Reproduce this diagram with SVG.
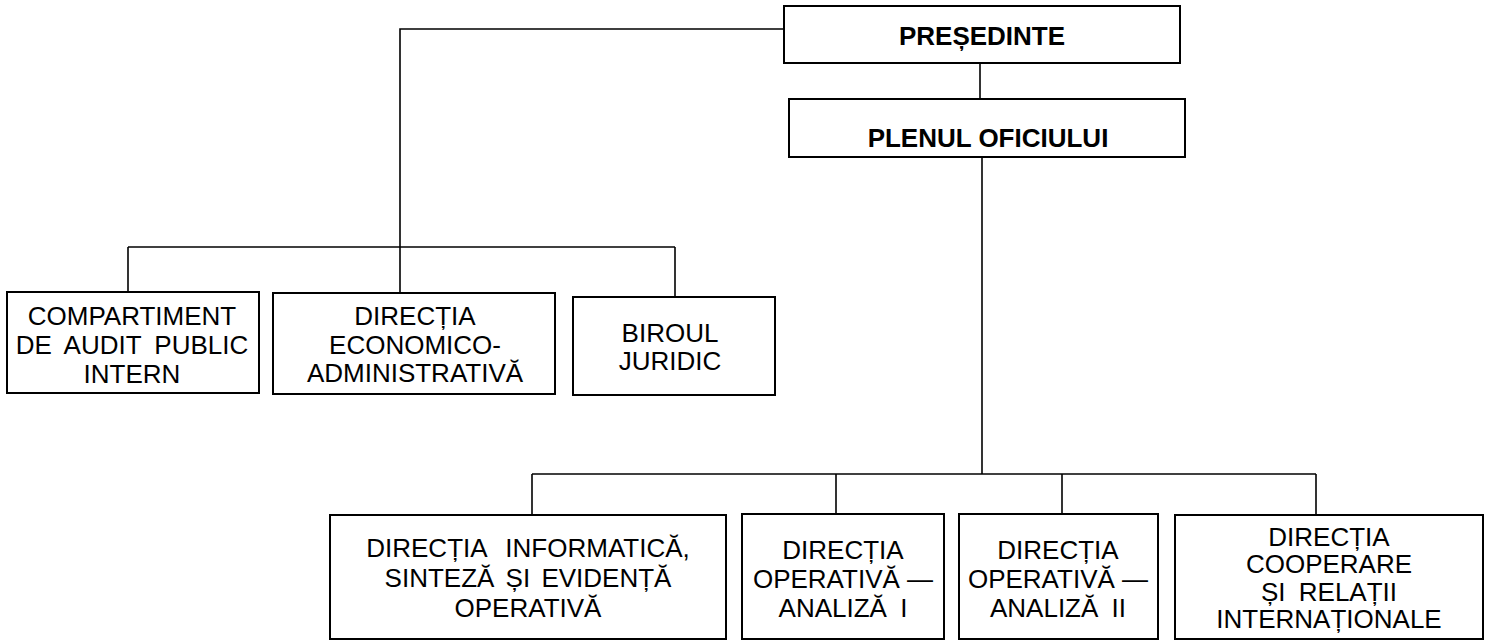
<svg xmlns="http://www.w3.org/2000/svg" width="1493" height="641" viewBox="0 0 1493 641">
<style>
.box{fill:#fff;stroke:#000;stroke-width:2}
.ln{fill:none;stroke:#000;stroke-width:1.6}
text{font-family:"Liberation Sans",Arial,sans-serif;font-size:26px;fill:#000;text-anchor:middle}
.b{font-weight:bold}
</style>
<rect width="1493" height="641" fill="#fff"/>
<g id="connectors">
<polyline class="ln" points="784,29 400,29 400,293"/>
<line class="ln" x1="128" y1="247" x2="675" y2="247"/>
<line class="ln" x1="128" y1="247" x2="128" y2="292"/>
<line class="ln" x1="675" y1="247" x2="675" y2="297"/>
<line class="ln" x1="980" y1="63" x2="980" y2="99"/>
<line class="ln" x1="982" y1="157" x2="982" y2="474"/>
<line class="ln" x1="532" y1="474" x2="1316" y2="474"/>
<line class="ln" x1="532" y1="474" x2="532" y2="515"/>
<line class="ln" x1="836" y1="474" x2="836" y2="514"/>
<line class="ln" x1="1062" y1="474" x2="1062" y2="514"/>
<line class="ln" x1="1316" y1="474" x2="1316" y2="515"/>
</g>
<g id="presedinte">
<rect class="box" x="784" y="6" width="396" height="57"/>
<text class="b" x="982" y="45">PREȘEDINTE</text>
</g>
<g id="plenul">
<rect class="box" x="789" y="99" width="396" height="58"/>
<text class="b" x="988" y="147">PLENUL OFICIULUI</text>
</g>
<g id="audit">
<rect class="box" x="7" y="292" width="252" height="101"/>
<text x="132"><tspan x="132" y="325">COMPARTIMENT</tspan><tspan x="132" y="354" word-spacing="6">DE AUDIT PUBLIC</tspan><tspan x="132" y="383">INTERN</tspan></text>
</g>
<g id="economico">
<rect class="box" x="273" y="293" width="282" height="101"/>
<text x="415"><tspan x="415" y="325">DIRECȚIA</tspan><tspan x="415" y="354">ECONOMICO-</tspan><tspan x="415" y="382">ADMINISTRATIVĂ</tspan></text>
</g>
<g id="juridic">
<rect class="box" x="573" y="297" width="202" height="98"/>
<text x="670"><tspan x="670" y="342">BIROUL</tspan><tspan x="670" y="370">JURIDIC</tspan></text>
</g>
<g id="informatica">
<rect class="box" x="330" y="515" width="396" height="124"/>
<text x="528"><tspan x="528" y="557" word-spacing="12">DIRECȚIA INFORMATICĂ,</tspan><tspan x="528" y="587" word-spacing="4">SINTEZĂ ȘI EVIDENȚĂ</tspan><tspan x="528" y="617">OPERATIVĂ</tspan></text>
</g>
<g id="analiza1">
<rect class="box" x="742" y="514" width="202" height="125"/>
<text x="843"><tspan x="843" y="559">DIRECȚIA</tspan><tspan x="843" y="588">OPERATIVĂ —</tspan><tspan x="843" y="617" word-spacing="6">ANALIZĂ I</tspan></text>
</g>
<g id="analiza2">
<rect class="box" x="959" y="514" width="199" height="125"/>
<text x="1058"><tspan x="1058" y="559">DIRECȚIA</tspan><tspan x="1058" y="588">OPERATIVĂ —</tspan><tspan x="1058" y="617" word-spacing="6">ANALIZĂ II</tspan></text>
</g>
<g id="cooperare">
<rect class="box" x="1175" y="515" width="308" height="124"/>
<text x="1329"><tspan x="1329" y="546">DIRECȚIA</tspan><tspan x="1329" y="573">COOPERARE</tspan><tspan x="1329" y="601" word-spacing="6">ȘI RELAȚII</tspan><tspan x="1329" y="628">INTERNAȚIONALE</tspan></text>
</g>
</svg>
